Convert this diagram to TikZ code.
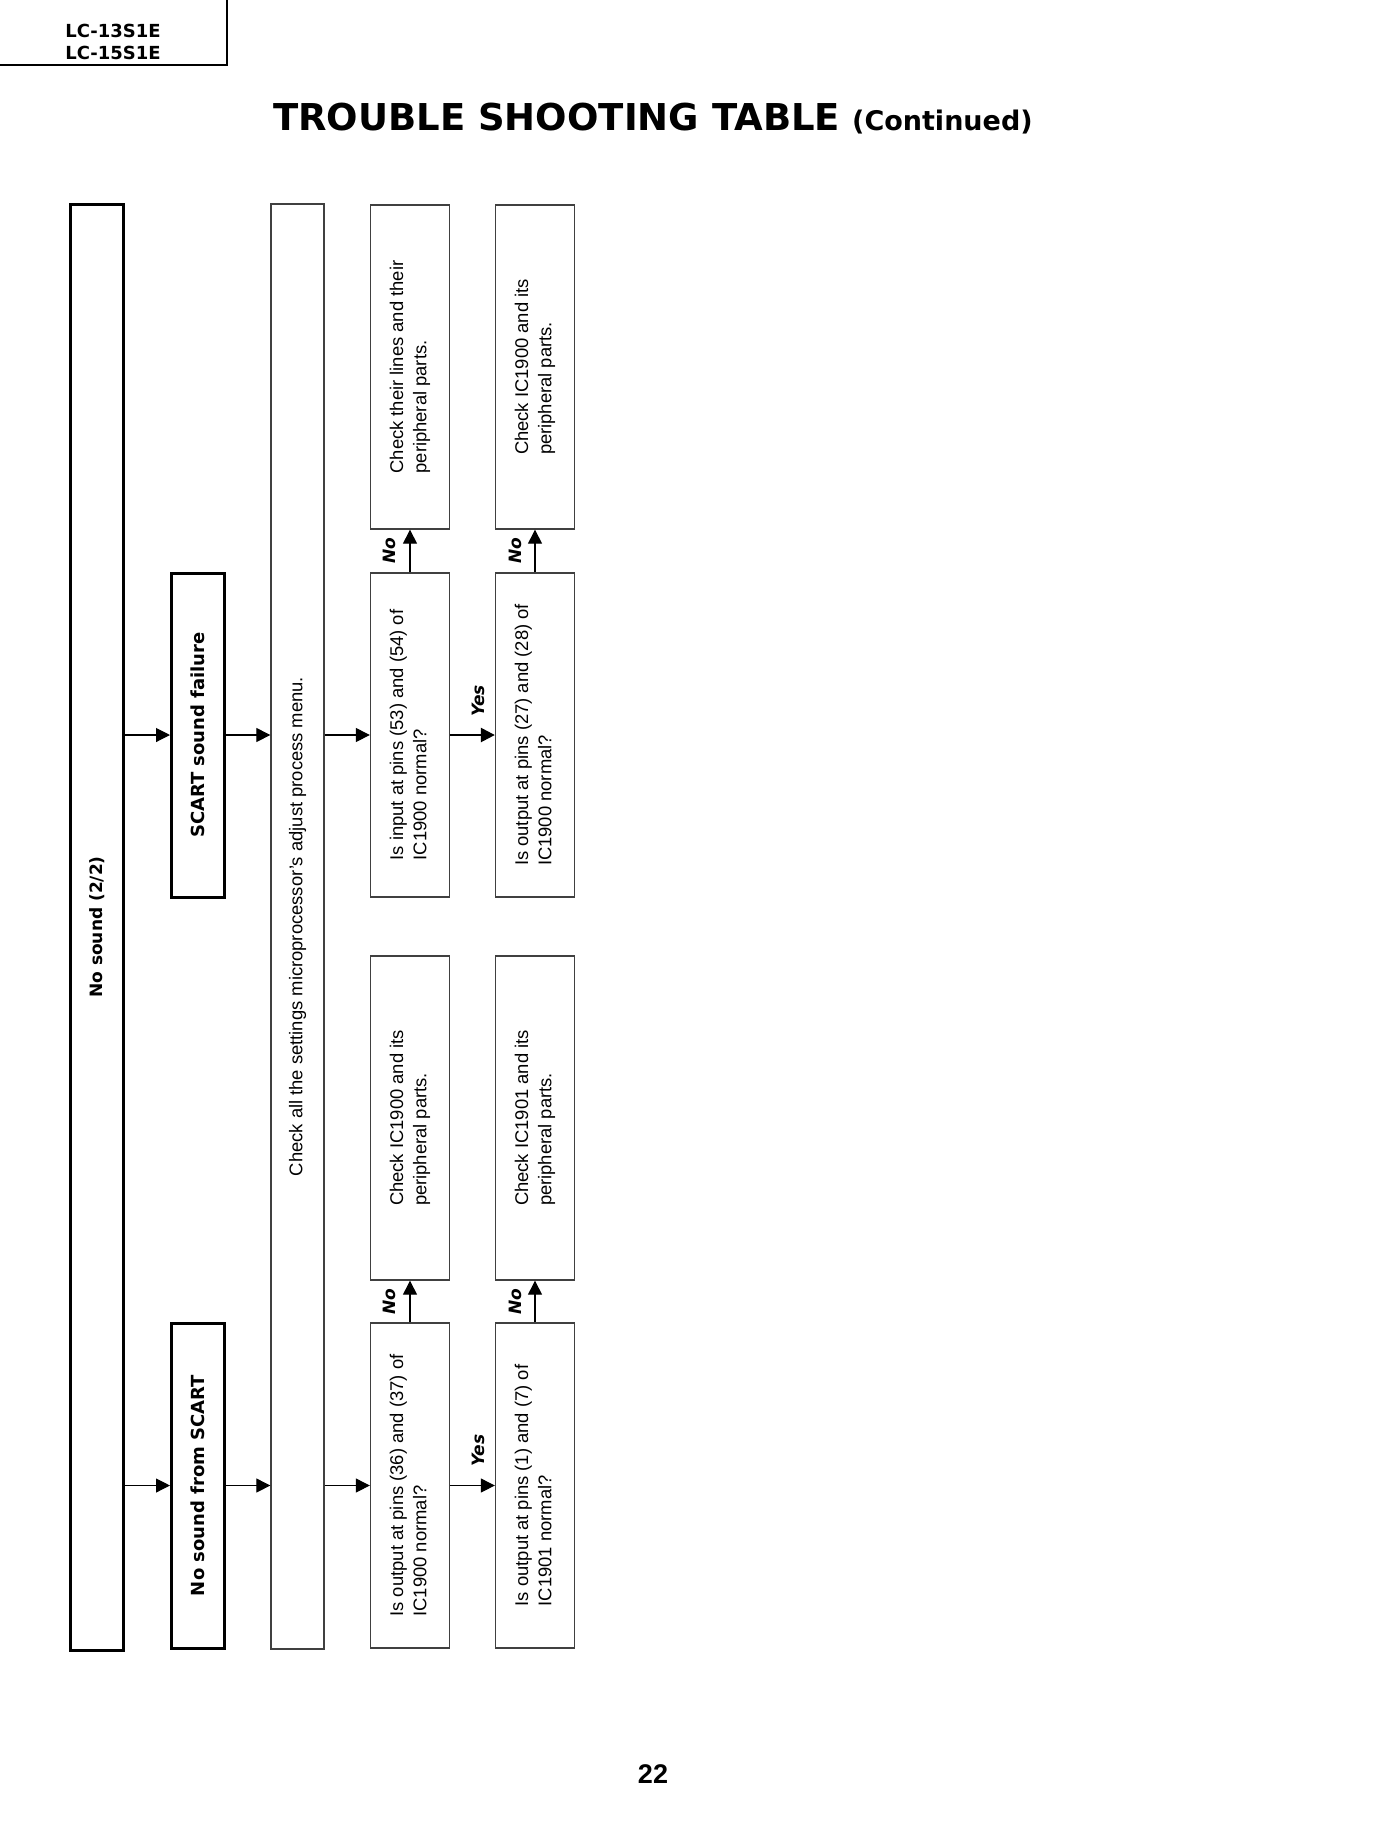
\documentclass[tikz,border=0pt]{standalone}
\usepackage{fontspec}
\setmainfont{Liberation Sans}
\newfontfamily\dv{DejaVu Sans}
\usetikzlibrary{arrows.meta}
\begin{document}
\begin{tikzpicture}[x=1pt,y=-1pt,
  tbox/.style={draw=black!75, line width=1.3pt, inner sep=0pt, font=\fontsize{18.4}{23.3}\selectfont},
  bbox/.style={draw=black, line width=3pt, inner sep=0pt, font=\dv\bfseries\fontsize{18}{22}\selectfont},
  arr/.style={line width=1.1pt, -{Triangle[length=14pt,width=14pt]}},
  lab/.style={font=\dv\bfseries\itshape\fontsize{17}{20}\selectfont, inner sep=0pt}]
\fill[white] (0,0) rectangle (1400,1826);
\useasboundingbox (0,0) rectangle (1400,1826);
% header
\draw[line width=2pt] (227,0) -- (227,65) -- (0,65);
\node[font=\dv\bfseries\fontsize{18}{20}\selectfont, inner sep=0pt] (m1) at (113,31) {LC-13S1E};
\node[font=\dv\bfseries\fontsize{18}{20}\selectfont, inner sep=0pt] (m2) at (113,53) {LC-15S1E};
\node[anchor=base west, inner sep=0pt] (title) at (273,130) {{\dv\bfseries\fontsize{37}{40}\selectfont TROUBLE SHOOTING TABLE}\hspace{12pt}{\dv\bfseries\fontsize{27}{30}\selectfont (Continued)}};
\node[anchor=base, font=\bfseries\fontsize{27}{30}\selectfont, inner sep=0pt] (pg) at (653,1783) {22};
% column 1-3
\node[bbox, font=\dv\bfseries\fontsize{17}{22}\selectfont, minimum width=52.5pt, minimum height=1446pt] (nos) at (96.75,927) {\rotatebox{90}{No sound (2/2)}};
\node[bbox, minimum width=52.5pt, minimum height=324pt] (scf) at (197.75,735) {\rotatebox{90}{SCART sound failure}};
\node[bbox, minimum width=52.5pt, minimum height=325pt] (nsf) at (197.75,1485.5) {\rotatebox{90}{No sound from SCART}};
\node[tbox, minimum width=53pt, minimum height=1445pt] (chk) at (297.5,926.5) {\rotatebox{90}{Check all the settings microprocessor’s adjust process menu.}};
% column 4
\node[tbox, minimum width=79pt, minimum height=324pt] (ca) at (410,367) {\rotatebox{90}{\begin{tabular}{@{}l@{}}Check their lines and their\\peripheral parts.\end{tabular}}};
\node[tbox, minimum width=79pt, minimum height=324pt] (qa) at (410,735) {\rotatebox{90}{\begin{tabular}{@{}l@{}}Is input at pins (53) and (54) of\\IC1900 normal?\end{tabular}}};
\node[tbox, minimum width=79pt, minimum height=324pt] (cc) at (410,1118) {\rotatebox{90}{\begin{tabular}{@{}l@{}}Check IC1900 and its\\peripheral parts.\end{tabular}}};
\node[tbox, minimum width=79pt, minimum height=325pt] (qc) at (410,1485.5) {\rotatebox{90}{\begin{tabular}{@{}l@{}}Is output at pins (36) and (37) of\\IC1900 normal?\end{tabular}}};
% column 5
\node[tbox, minimum width=79pt, minimum height=324pt] (cb) at (535,367) {\rotatebox{90}{\begin{tabular}{@{}l@{}}Check IC1900 and its\\peripheral parts.\end{tabular}}};
\node[tbox, minimum width=79pt, minimum height=324pt] (qb) at (535,735) {\rotatebox{90}{\begin{tabular}{@{}l@{}}Is output at pins (27) and (28) of\\IC1900 normal?\end{tabular}}};
\node[tbox, minimum width=79pt, minimum height=324pt] (cd) at (535,1118) {\rotatebox{90}{\begin{tabular}{@{}l@{}}Check IC1901 and its\\peripheral parts.\end{tabular}}};
\node[tbox, minimum width=79pt, minimum height=325pt] (qd) at (535,1485.5) {\rotatebox{90}{\begin{tabular}{@{}l@{}}Is output at pins (1) and (7) of\\IC1901 normal?\end{tabular}}};
% row 1 connectors
\draw[arr] (nos.east |- scf.west) -- (scf.west);
\draw[arr] (scf.east) -- (chk.west |- scf.east);
\draw[arr] (chk.east |- qa.west) -- (qa.west);
\draw[arr, line width=2.4pt] (qa.east) -- node[lab, xshift=6pt, yshift=34pt] {\rotatebox{90}{Yes}} (qb.west);
\draw[arr] (qa.north) -- node[lab, xshift=-21pt] {\rotatebox{90}{No}} (ca.south);
\draw[arr] (qb.north) -- node[lab, xshift=-20pt] {\rotatebox{90}{No}} (cb.south);
% row 2 connectors
\draw[arr] (nos.east |- nsf.west) -- (nsf.west);
\draw[arr] (nsf.east) -- (chk.west |- nsf.east);
\draw[arr] (chk.east |- qc.west) -- (qc.west);
\draw[arr] (qc.east) -- node[lab, xshift=6pt, yshift=35pt] {\rotatebox{90}{Yes}} (qd.west);
\draw[arr] (qc.north) -- node[lab, xshift=-21pt] {\rotatebox{90}{No}} (cc.south);
\draw[arr] (qd.north) -- node[lab, xshift=-20pt] {\rotatebox{90}{No}} (cd.south);
\end{tikzpicture}
\end{document}
